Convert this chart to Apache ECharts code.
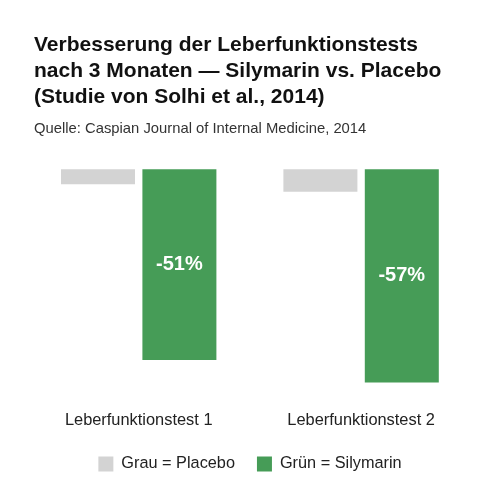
<!DOCTYPE html>
<html><head><meta charset="utf-8">
<script src="https://cdn.jsdelivr.net/npm/echarts@6/dist/echarts.min.js"></script>
<style>html,body{margin:0;padding:0;background:#fff}#c{width:500px;height:500px}</style>
</head><body><div id="c"></div>
<script>
var categories = ['Leberfunktionstest 1', 'Leberfunktionstest 2'];
var placebo = [-4, -6];
var silymarin = [-51, -57];
var seriesNames = ['Grau = Placebo', 'Grün = Silymarin'];
var titleText = 'Verbesserung der Leberfunktionstests\nnach 3 Monaten — Silymarin vs. Placebo\n(Studie von Solhi et al., 2014)';
var subText = 'Quelle: Caspian Journal of Internal Medicine, 2014';

var chart = echarts.init(document.getElementById('c'));
var font = 'Liberation Sans';
chart.setOption({
  backgroundColor: '#ffffff',
  textStyle: {fontFamily: font},
  title: [{
    text: titleText, left: 29, top: 27,
    textStyle: {fontSize: 21, fontWeight: 'bold', color: '#111', lineHeight: 26, fontFamily: font}
  }, {
    text: subText, left: 29, top: 116,
    textStyle: {fontSize: 14.8, fontWeight: 'normal', color: '#333', fontFamily: font}
  }],
  legend: {
    data: seriesNames, left: 'center', top: 451, itemWidth: 15, itemHeight: 15, itemGap: 22,
    icon: 'rect', textStyle: {fontSize: 16.3, color: '#222', fontFamily: font, padding: [0, 0, 0, 3]}
  },
  grid: {left: 27.5, right: 27.7, top: 169.3, height: 224.4, containLabel: false},
  xAxis: {
    type: 'category', data: categories,
    axisLine: {show: false, onZero: false}, axisTick: {show: false},
    axisLabel: {fontSize: 16.4, color: '#222', margin: 19, fontFamily: font}
  },
  yAxis: {type: 'value', min: -60, max: 0, show: false, splitLine: {show: false}},
  series: [{
    name: seriesNames[0], type: 'bar', data: placebo, barWidth: 74, barGap: '10%',
    itemStyle: {color: '#d3d3d3'}
  }, {
    name: seriesNames[1], type: 'bar', data: silymarin, barWidth: 74,
    itemStyle: {color: '#469c57'},
    label: {show: true, position: 'inside', formatter: '{c}%', color: '#fff', fontSize: 20, fontWeight: 'bold', fontFamily: font}
  }]
});
</script></body></html>
